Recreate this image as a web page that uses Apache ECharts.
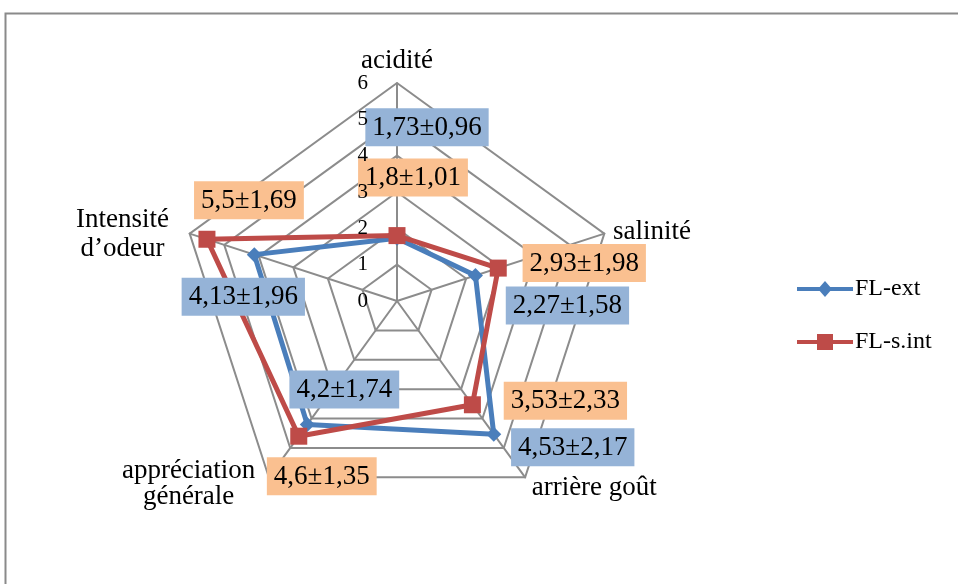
<!DOCTYPE html>
<html><head><meta charset="utf-8">
<script src="https://cdn.jsdelivr.net/npm/echarts@6/dist/echarts.min.js"></script>
<style>html,body{margin:0;padding:0;background:#fff}#c{width:958px;height:584px}</style>
</head><body><div id="c"></div>
<script>
// Indicators in ECharts (counter-clockwise) order starting at top
const categories = ['acidité', 'Intensité\nd’odeur', 'appréciation\ngénérale', 'arrière goût', 'salinité'];
const seriesNames = ['FL-ext', 'FL-s.int'];
const extMean = [1.73, 4.13, 4.2, 4.53, 2.27];
const extSd   = [0.96, 1.96, 1.74, 2.17, 1.58];
const intMean = [1.8, 5.5, 4.6, 3.53, 2.93];
const intSd   = [1.01, 1.69, 1.35, 2.33, 1.98];
const axisMax = 6;

const FONT = 'Liberation Serif';
const BLUE = '#4A7EBB', RED = '#BE4B48';
const BLUE_BOX = '#95B3D7', ORANGE_BOX = '#FAC090';

// label offsets per indicator (px), ext then int
const extOffsets = [[30,-111],[-11,42],[37,-35],[79,13],[92,30]];
const intOffsets = [[16,-58],[42,-39],[23,40],[93,-4],[86,-5]];

// per-indicator rich-style keys for name lines
const nameStyleKeys = [['a'], ['i1','i2'], ['p1','p2'], ['g'], ['s']];

const fmt = v => String(v).replace('.', ',');

const chart = echarts.init(document.getElementById('c'), null, {renderer:'canvas'});

function labelSeries(mean, sd, offsets, bg, idx) {
  const target = mean[idx];
  return {
    type: 'radar', z: 5, silent: true,
    symbol: 'rect', symbolSize: 1,
    itemStyle: {color: 'rgba(0,0,0,0)'},
    lineStyle: {opacity: 0},
    data: [{
      value: mean,
      label: {
        show: true, position: 'inside', offset: offsets[idx],
        formatter: p => (p.value === target ? '{b|' + fmt(mean[idx]) + '±' + fmt(sd[idx]) + '}' : ''),
        rich: {
          b: {fontFamily: FONT, fontSize: 27, color: '#000',
              backgroundColor: bg, padding: [6, 7, 5, 7]}
        },
        opacity: 1
      }
    }]
  };
}

const series = [
  {
    name: seriesNames[0], type: 'radar', z: 3,
    symbol: 'diamond', symbolSize: 15,
    itemStyle: {color: BLUE},
    lineStyle: {color: BLUE, width: 5},
    data: [{value: extMean, name: seriesNames[0]}]
  },
  {
    name: seriesNames[1], type: 'radar', z: 4,
    symbol: 'rect', symbolSize: 17,
    itemStyle: {color: RED},
    lineStyle: {color: RED, width: 5},
    data: [{value: intMean, name: seriesNames[1]}]
  }
];
for (let i = 0; i < categories.length; i++) {
  series.push(labelSeries(intMean, intSd, intOffsets, ORANGE_BOX, i));
  series.push(labelSeries(extMean, extSd, extOffsets, BLUE_BOX, i));
}

const radarBase = {
  center: [397, 301], radius: 218, startAngle: 90,
  shape: 'polygon', splitNumber: 6
};

const nt = (extra) => Object.assign({fontFamily: FONT, fontSize: 27, color: '#000', align: 'center', lineHeight: 30}, extra);

chart.setOption({
  animation: false,
  backgroundColor: '#fff',
  graphic: [{
    type: 'rect', shape: {x: 5.5, y: 13.5, width: 1000, height: 700},
    style: {fill: 'none', stroke: '#8a8a8a', lineWidth: 2}, silent: true, z: -10
  }],
  legend: {
    data: seriesNames.map((n, i) => ({
      name: n,
      icon: i === 0
        ? 'path://M0,6H56V10H0Z M28,0L35,8L28,16L21,8Z'
        : 'path://M0,6H56V10H0Z M20,0H36V16H20Z'
    })),
    orient: 'vertical', left: 792, top: 272,
    itemWidth: 56, itemHeight: 16, itemGap: 29,
    textStyle: {fontFamily: FONT, fontSize: 24, color: '#000', padding: [0,0,0,-3]}
  },
  radar: [
    Object.assign({}, radarBase, {
      indicator: categories.map(c => ({name: c, min: 0, max: axisMax})),
      axisName: {
        color: '#000', fontFamily: FONT, fontSize: 27,
        formatter: function (name) {
          const idx = categories.indexOf(name);
          const keys = nameStyleKeys[idx] || ['a'];
          return name.split('\n').map((l, k) => '{' + keys[k] + '|' + l + '}').join('\n');
        },
        rich: {
          a:  nt({padding: [0, 0, 2, 0]}),
          i1: nt({lineHeight: 30, padding: [6, 15, 0, 0]}),
          i2: nt({lineHeight: 30, padding: [5, 15, 0, 0]}),
          p1: nt({lineHeight: 27, padding: [5, 10, 0, 0]}),
          p2: nt({lineHeight: 27, padding: [2, 10, 0, 0]}),
          g:  nt({lineHeight: 27, padding: [12, 0, 0, 3]}),
          s:  nt({lineHeight: 27, padding: [0, 0, 0, 3]})
        }
      },
      nameGap: 6,
      axisLine: {lineStyle: {color: '#8c8c8c', width: 2}},
      splitLine: {lineStyle: {color: '#8c8c8c', width: 2}},
      splitArea: {show: false},
      axisTick: {show: false},
      axisLabel: {show: false}
    }),
    Object.assign({}, radarBase, {
      z: 20,
      indicator: categories.map((c, i) => i === 0
        ? {name: c, min: 0, max: axisMax}
        : {name: c, min: 0, max: axisMax, axisLabel: {show: false}}),
      axisName: {show: false},
      axisLine: {show: false},
      splitLine: {show: false},
      splitArea: {show: false},
      axisTick: {show: false},
      axisLabel: {show: true, color: '#000', fontFamily: FONT, fontSize: 21, margin: 29}
    })
  ],
  series: series
});
</script></body></html>
